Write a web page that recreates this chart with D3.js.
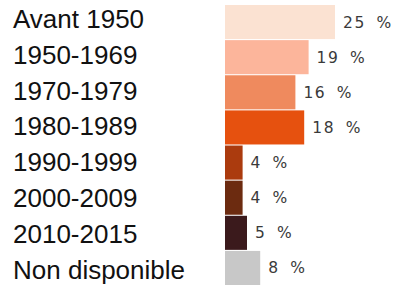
<!DOCTYPE html>
<html><head><meta charset="utf-8">
<script src="https://cdn.jsdelivr.net/npm/d3@7/dist/d3.min.js"></script>
<style>html,body{margin:0;padding:0;background:#fff;}svg{display:block;}</style>
</head><body>
<script>
const categories = ["Avant 1950","1950-1969","1970-1979","1980-1989","1990-1999","2000-2009","2010-2015","Non disponible"];
const values = [25,19,16,18,4,4,5,8];
const colors = ["#fbe2d2","#fcb59b","#ef8a5e","#e6510f","#ab3b0e","#6c2b10","#3b1a1c","#c8c8c8"];
const valueLabels = values.map(v => v + " %");

const W = 400, H = 287;
const svg = d3.select("body").append("svg").attr("width", W).attr("height", H);

const x = d3.scaleLinear().domain([0, 25]).range([225, 335]);
const y = d3.scaleBand().domain(categories).range([5, 285]).paddingInner(0.03).paddingOuter(0);
const yLab = d3.scalePoint().domain(categories).range([28, 278.5]);

svg.selectAll("rect.bar").data(categories).join("rect")
  .attr("class","bar")
  .attr("x", x(0))
  .attr("y", d => y(d))
  .attr("width", (d,i) => x(values[i]) - x(0))
  .attr("height", y.bandwidth())
  .attr("fill", (d,i) => colors[i]);

svg.selectAll("text.cat").data(categories).join("text")
  .attr("class","cat")
  .attr("x", 13)
  .attr("y", d => yLab(d))
  .attr("font-family", "'Liberation Sans', Arial, sans-serif")
  .attr("font-size", 26)
  .attr("fill", "#111")
  .text(d => d);

svg.selectAll("text.val").data(categories).join("text")
  .attr("class","val")
  .attr("x", (d,i) => x(values[i]) + 8)
  .attr("y", d => y(d) + y.bandwidth()/2 + 5.5)
  .attr("font-family", "'DejaVu Sans', sans-serif")
  .attr("font-size", 15.5)
  .attr("letter-spacing", 1.6)
  .attr("word-spacing", 4)
  .attr("fill", "#3a3a3a")
  .text((d,i) => valueLabels[i]);
</script>
</body></html>
